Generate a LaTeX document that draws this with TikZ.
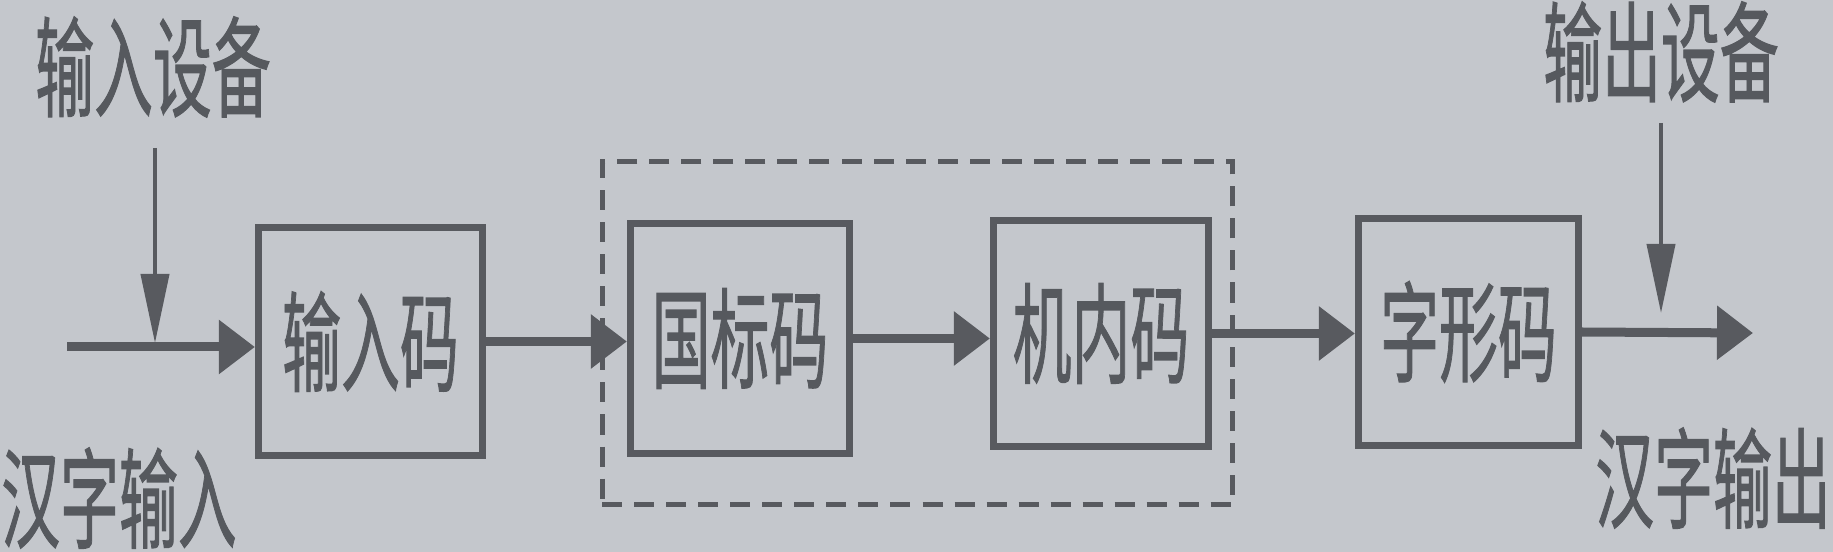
\documentclass[tikz,border=0pt]{standalone}
\usepackage{fontspec}
\newfontfamily\cjk{Noto Sans CJK SC}[FakeBold=1.2]
\usetikzlibrary{arrows.meta}
\definecolor{bgc}{RGB}{196,199,204}
\definecolor{ink}{RGB}{88,90,95}
\definecolor{txt}{RGB}{86,89,94}
\newcommand{\ctext}[1]{{\cjk\fontsize{31pt}{31pt}\selectfont\scalebox{0.54}[1]{#1}}}
\tikzset{
  codebox/.style={draw=ink, line width=0.07cm, inner sep=0pt, text=txt},
  lbl/.style={text=txt, inner sep=0pt},
  mainarrow/.style={draw=ink, line width=0.09cm, -{Triangle[length=0.36cm, width=0.52cm]}},
  devarrow/.style={draw=ink, line width=0.04cm, -{Triangle[length=0.69cm, width=0.28cm]}},
  groupbox/.style={draw=ink, line width=0.055cm, dash pattern=on 0.2cm off 0.12cm, inner sep=0pt},
}
\begin{document}
\begin{tikzpicture}[x=0.01cm, y=-0.01cm]
\fill[bgc] (0,0) rectangle (1833,552);
\useasboundingbox (0,0) rectangle (1833,552);
\clip (0,0) rectangle (1833,552);
% group (dashed)
\node[groupbox, minimum width=6.30cm, minimum height=3.43cm] (grp) at (917.5,333) {};
% boxes
\node[codebox, minimum width=2.24cm, minimum height=2.28cm] (b1) at (370.5,341.5) {\ctext{输入码}};
\node[codebox, minimum width=2.19cm, minimum height=2.30cm] (b2) at (740,338.5) {\ctext{国标码}};
\node[codebox, minimum width=2.15cm, minimum height=2.26cm] (b3) at (1101,333.5) {\ctext{机内码}};
\node[codebox, minimum width=2.20cm, minimum height=2.27cm] (b4) at (1468.5,332) {\ctext{字形码}};
% labels
\node[lbl] (indev) at (153,67) {\ctext{输入设备}};
\node[lbl] (inhz) at (119,498) {\ctext{汉字输入}};
\node[lbl] (outdev) at (1661,52) {\ctext{输出设备}};
\node[lbl] (outhz) at (1713,478) {\ctext{汉字输出}};
% coordinates
\coordinate (in1) at (67,347);
\coordinate (j1) at (155,343);
\coordinate (d1) at (155,148);
\coordinate (out1) at (1753,333);
\coordinate (d2) at (1661,123);
\coordinate (j2) at (1661,313);
% connectors
\draw[mainarrow] (in1) -- (in1 -| b1.west);
\draw[devarrow] (d1) -- (j1);
\draw[mainarrow] (b1.east) -- (b1.east -| b2.west);
\draw[mainarrow] (b2.east) -- (b2.east -| b3.west);
\draw[mainarrow] (b3.east) -- (b3.east -| b4.west);
\draw[mainarrow] (b4.east) -- (out1);
\draw[devarrow] (d2) -- (j2);
\end{tikzpicture}
\end{document}
